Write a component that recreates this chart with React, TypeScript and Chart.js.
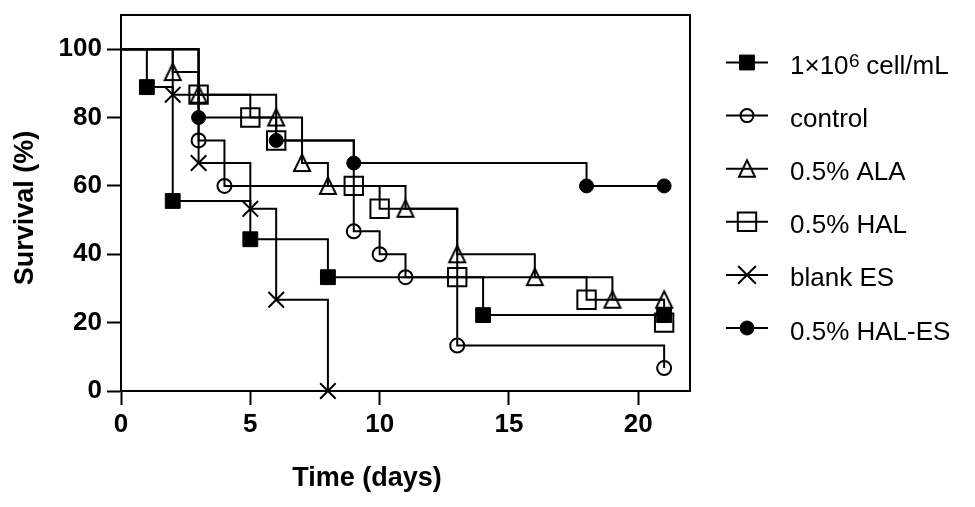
import React, { useEffect, useRef } from "react";
import Chart from "chart.js/auto";
import { drawPoint } from "chart.js/helpers";

// axis ticks
const X_TICKS = [0, 5, 10, 15, 20];
const Y_TICKS = [0, 20, 40, 60, 80, 100];

// Kaplan-Meier curves: day of each step and survival (%) after it
const CELL_DAYS = [0, 1, 2, 5, 8, 14, 21];
const CELL_SURV = [100, 88.9, 55.6, 44.4, 33.3, 22.2, 22.2];

const CONTROL_DAYS = [0, 3, 4, 9, 10, 11, 13, 21];
const CONTROL_SURV = [100, 73.3, 60, 46.7, 40, 33.3, 13.3, 6.7];

const ALA_DAYS = [0, 2, 3, 6, 7, 8, 11, 13, 16, 19, 21];
const ALA_SURV = [100, 93.3, 86.7, 80, 66.7, 60, 53.3, 40, 33.3, 26.7, 26.7];

const HAL_DAYS = [0, 3, 5, 6, 9, 10, 13, 18, 21];
const HAL_SURV = [100, 86.7, 80, 73.3, 60, 53.3, 33.3, 26.7, 20];

const BLANK_DAYS = [0, 2, 3, 5, 6, 8];
const BLANK_SURV = [100, 86.7, 66.7, 53.3, 26.7, 0];

const HALES_DAYS = [0, 3, 6, 9, 18, 21];
const HALES_SURV = [100, 80, 73.3, 66.7, 60, 60];

const FONT = "'Liberation Sans', Arial, Helvetica, sans-serif";

function makeTriangle(): HTMLCanvasElement {
  const c = document.createElement("canvas");
  c.width = 22;
  c.height = 22;
  const g = c.getContext("2d")!;
  g.strokeStyle = "#000";
  g.lineWidth = 2;
  g.beginPath();
  g.moveTo(11, 2.5);
  g.lineTo(19, 19);
  g.lineTo(3, 19);
  g.closePath();
  g.stroke();
  return c;
}

type Series = {
  label: string;
  days: number[];
  surv: number[];
  style: any;
  radius: number;
  legendRadius: number;
  filled: boolean;
};

const buildSeries = (): Series[] => {
  const tri = makeTriangle();
  return [
    { label: "1×10⁶ cell/mL", days: CELL_DAYS, surv: CELL_SURV, style: "rect", radius: 10.5, legendRadius: 10.5, filled: true },
    { label: "control", days: CONTROL_DAYS, surv: CONTROL_SURV, style: "circle", radius: 7, legendRadius: 6.5, filled: false },
    { label: "0.5% ALA", days: ALA_DAYS, surv: ALA_SURV, style: tri, radius: 9, legendRadius: 9, filled: false },
    { label: "0.5% HAL", days: HAL_DAYS, surv: HAL_SURV, style: "rect", radius: 13, legendRadius: 13, filled: false },
    { label: "blank ES", days: BLANK_DAYS, surv: BLANK_SURV, style: "crossRot", radius: 11, legendRadius: 12.5, filled: false },
    { label: "0.5% HAL-ES", days: HALES_DAYS, surv: HALES_SURV, style: "circle", radius: 7, legendRadius: 7, filled: true },
  ];
};

const SUP = /([⁰¹²³⁴⁵⁶⁷⁸⁹]+)/;
const SUP_MAP: Record<string, string> = {
  "⁰": "0", "¹": "1", "²": "2", "³": "3", "⁴": "4",
  "⁵": "5", "⁶": "6", "⁷": "7", "⁸": "8", "⁹": "9",
};

const App: React.FC = () => {
  const canvasRef = useRef<HTMLCanvasElement>(null);

  useEffect(() => {
    document.body.style.margin = "0";
    if (!canvasRef.current) return;
    const series = buildSeries();

    const framePlugin = {
      id: "frame",
      beforeDatasetsDraw(chart: any) {
        const { ctx, chartArea } = chart;
        ctx.save();
        ctx.strokeStyle = "#000";
        ctx.lineWidth = 2;
        ctx.beginPath();
        ctx.moveTo(chartArea.left, chartArea.top);
        ctx.lineTo(chartArea.right, chartArea.top);
        ctx.lineTo(chartArea.right, chartArea.bottom);
        ctx.stroke();
        ctx.restore();
      },
    };

    const labelsPlugin = {
      id: "labels",
      afterDraw(chart: any) {
        const ctx = chart.ctx as CanvasRenderingContext2D;
        ctx.save();
        ctx.fillStyle = "#000";
        ctx.font = `bold 27px ${FONT}`;
        ctx.textAlign = "center";
        ctx.textBaseline = "alphabetic";
        ctx.fillText("Time (days)", 367, 486);
        ctx.save();
        ctx.translate(33, 208);
        ctx.rotate(-Math.PI / 2);
        ctx.fillText("Survival (%)", 0, 0);
        ctx.restore();

        // legend
        series.forEach((s, i) => {
          const y = 62.5 + i * 53.1;
          ctx.strokeStyle = "#000";
          ctx.lineWidth = 2;
          ctx.beginPath();
          ctx.moveTo(726, y);
          ctx.lineTo(768, y);
          ctx.stroke();
          ctx.fillStyle = s.filled ? "#000" : "rgba(0,0,0,0)";
          ctx.lineWidth = s.filled ? 1 : 2;
          drawPoint(ctx, { pointStyle: s.style, radius: s.legendRadius, borderWidth: ctx.lineWidth, rotation: 0 } as any, 747, y);

          ctx.fillStyle = "#000";
          ctx.textAlign = "left";
          ctx.textBaseline = "alphabetic";
          let x = 790;
          const base = y + 11.5;
          s.label.split(SUP).forEach((part) => {
            if (!part) return;
            if (SUP.test(part)) {
              const t = part.split("").map((c) => SUP_MAP[c]).join("");
              ctx.font = `19px ${FONT}`;
              ctx.fillText(t, x + 0.5, base - 7);
              x += ctx.measureText(t).width;
            } else {
              ctx.font = `26px ${FONT}`;
              ctx.fillText(part, x, base);
              x += ctx.measureText(part).width;
            }
          });
        });
        ctx.restore();
      },
    };

    const chart = new Chart(canvasRef.current, {
      type: "line",
      data: {
        datasets: series.map((s) => ({
          label: s.label,
          data: s.days.map((d, i) => ({ x: d, y: s.surv[i] })),
          stepped: true,
          borderColor: "#000",
          borderWidth: 2,
          fill: false,
          clip: false as any,
          pointStyle: s.style,
          pointRadius: (c: any) => (c.dataIndex === 0 ? 0 : s.radius),
          pointHoverRadius: (c: any) => (c.dataIndex === 0 ? 0 : s.radius),
          pointBackgroundColor: s.filled ? "#000" : "rgba(0,0,0,0)",
          pointBorderColor: "#000",
          pointBorderWidth: s.filled ? 1 : 2,
        })),
      },
      options: {
        animation: false,
        responsive: true,
        maintainAspectRatio: false,
        events: [],
        layout: { padding: { left: 0, right: 285, top: 12, bottom: 0 } },
        plugins: {
          legend: { display: false },
          tooltip: { enabled: false },
        },
        scales: {
          x: {
            type: "linear",
            min: 0,
            max: 22,
            afterBuildTicks: (scale: any) => {
              scale.ticks = X_TICKS.map((v) => ({ value: v }));
            },
            afterFit: (scale: any) => {
              scale.height = 116;
              scale.paddingLeft = 0;
              scale.paddingRight = 0;
            },
            grid: { drawOnChartArea: false, drawTicks: true, tickLength: 14, tickColor: "#000", tickWidth: 2 },
            border: { display: true, color: "#000", width: 2 },
            ticks: {
              color: "#000",
              padding: 4,
              maxRotation: 0,
              autoSkip: false,
              font: { family: FONT, size: 26, weight: "bold" },
            },
          },
          y: {
            type: "linear",
            min: 0,
            max: 110,
            afterBuildTicks: (scale: any) => {
              scale.ticks = Y_TICKS.map((v) => ({ value: v }));
            },
            afterFit: (scale: any) => {
              scale.width = 121;
              scale.paddingTop = 0;
              scale.paddingBottom = 0;
            },
            grid: { drawOnChartArea: false, drawTicks: true, tickLength: 14, tickColor: "#000", tickWidth: 2 },
            border: { display: true, color: "#000", width: 2 },
            ticks: {
              color: "#000",
              padding: 5,
              autoSkip: false,
              font: { family: FONT, size: 26, weight: "bold" },
            },
          },
        },
      },
      plugins: [framePlugin, labelsPlugin],
    });

    return () => chart.destroy();
  }, []);

  return (
    <div style={{ position: "relative", width: 975, height: 507 }}>
      <canvas ref={canvasRef} />
    </div>
  );
};

export default App;
